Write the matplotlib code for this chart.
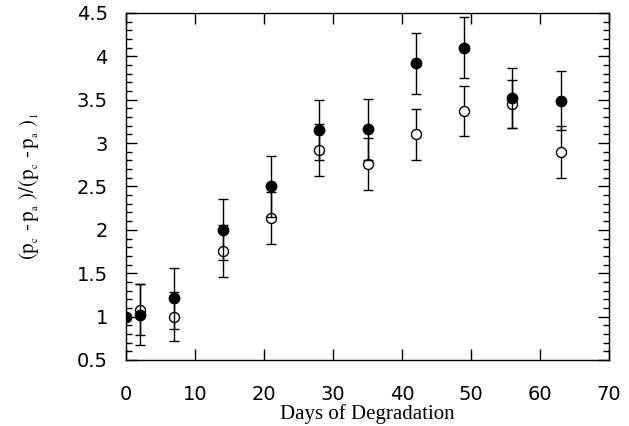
import matplotlib
matplotlib.use("Agg")
import matplotlib.pyplot as plt
from matplotlib.ticker import MultipleLocator

plt.rcParams['mathtext.fontset'] = 'stix'

days_filled = [0, 2, 7, 14, 21, 28, 35, 42, 49, 56, 63]
ratio_filled = [1.0, 1.02, 1.21, 2.0, 2.5, 3.15, 3.16, 3.92, 4.1, 3.52, 3.49]
err_filled = [0.0, 0.35, 0.35, 0.35, 0.35, 0.35, 0.35, 0.35, 0.35, 0.35, 0.34]

days_open = [2, 7, 14, 21, 28, 35, 42, 49, 56, 63]
ratio_open = [1.08, 1.0, 1.76, 2.14, 2.92, 2.76, 3.1, 3.37, 3.45, 2.9]
err_open = [0.29, 0.28, 0.3, 0.3, 0.3, 0.3, 0.29, 0.29, 0.28, 0.3]

fig = plt.figure(figsize=(6.29, 4.26), dpi=100)
ax = fig.add_axes([0.2003, 0.155, 0.768, 0.8146])

ax.errorbar(days_open, ratio_open, yerr=err_open, fmt='o', mfc='white', mec='black',
            ecolor='black', color='black', ms=7.2, mew=1.0, capsize=3.5, elinewidth=1.0,
            capthick=1.0, zorder=3)
ax.errorbar(days_filled, ratio_filled, yerr=err_filled, fmt='o', mfc='black', mec='black',
            ecolor='black', color='black', ms=7.5, capsize=3.5, elinewidth=1.0,
            capthick=1.0, zorder=4)

ax.set_xlim(0, 70)
ax.set_ylim(0.5, 4.5)
ax.xaxis.set_major_locator(MultipleLocator(10))
ax.yaxis.set_major_locator(MultipleLocator(0.5))
ax.yaxis.set_minor_locator(MultipleLocator(0.1))
ax.tick_params(which='both', direction='in', top=True, right=True, width=1.0)
ax.tick_params(which='major', length=8, labelsize=14)
ax.tick_params(axis='x', which='major', pad=18)
ax.tick_params(axis='y', which='major', pad=13)
ax.tick_params(which='minor', length=4.3)
for s in ax.spines.values():
    s.set_linewidth(1.0)

def fmt(v, pos):
    return ('%g' % v)
ax.yaxis.set_major_formatter(plt.FuncFormatter(fmt))
for lab in ax.get_xticklabels() + ax.get_yticklabels():
    lab.set_fontfamily('DejaVu Sans')

ax.set_xlabel('Days of Degradation', fontfamily='Liberation Serif', fontsize=15, labelpad=0)
ax.set_ylabel(r'$(\mathrm{p}_{{}_{\mathrm{c}}}\ \text{-}\,\mathrm{p}_{{}_{\mathrm{a}}}\ )/(\mathrm{p}_{{}_{\mathrm{c}}}\ \text{-}\,\mathrm{p}_{{}_{\mathrm{a}}}\ )_{{}_{1}}$',
              fontsize=15)
ax.yaxis.set_label_coords(-0.175, 0.5)

fig.savefig('out.png', dpi=100)
